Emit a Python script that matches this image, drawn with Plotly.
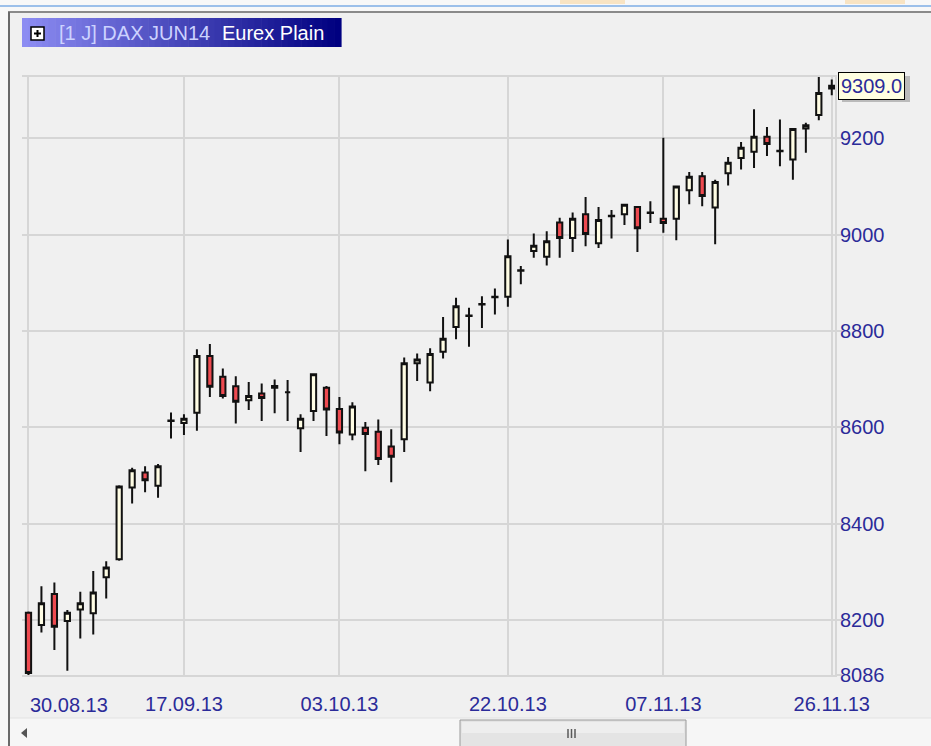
import plotly.graph_objects as go

# ---------------- data ----------------
dates = [
    "30.08.13",
    "02.09.13", "03.09.13", "04.09.13", "05.09.13", "06.09.13", "09.09.13", "10.09.13",
    "11.09.13", "12.09.13", "13.09.13", "16.09.13", "17.09.13", "18.09.13", "19.09.13",
    "20.09.13", "23.09.13", "24.09.13", "25.09.13", "26.09.13", "27.09.13", "30.09.13",
    "01.10.13", "02.10.13", "03.10.13", "04.10.13", "07.10.13", "08.10.13", "09.10.13",
    "10.10.13", "11.10.13", "14.10.13", "15.10.13", "16.10.13", "17.10.13", "18.10.13",
    "21.10.13", "22.10.13", "23.10.13", "24.10.13", "25.10.13", "28.10.13", "29.10.13",
    "30.10.13", "31.10.13",
    "01.11.13", "04.11.13", "05.11.13", "06.11.13", "07.11.13", "08.11.13", "11.11.13",
    "12.11.13", "13.11.13", "14.11.13", "15.11.13", "18.11.13", "19.11.13", "20.11.13",
    "21.11.13", "22.11.13", "25.11.13", "26.11.13",
]
opens = [8215, 8190, 8254, 8198, 8222, 8214, 8289, 8326, 8475, 8506,
         8479, 8613, 8609, 8630, 8748, 8705, 8685, 8656, 8670, 8686,
         8673, 8598, 8634, 8682, 8638, 8585, 8599, 8591, 8560, 8575,
         8733, 8693, 8757, 8808, 8832, 8855, 8870, 8871, 8925, 8966,
         8954, 9025, 8993, 9042, 8982, 9038, 9042, 9057, 9045, 9033,
         9033, 9092, 9121, 9056, 9127, 9159, 9172, 9203, 9173, 9156,
         9220, 9248, 9303]
highs = [8218, 8270, 8278, 8221, 8259, 8302, 8322, 8480, 8516, 8519,
         8524, 8631, 8627, 8762, 8773, 8722, 8706, 8694, 8691, 8699,
         8698, 8627, 8712, 8686, 8663, 8652, 8611, 8616, 8596, 8745,
         8753, 8764, 8829, 8869, 8848, 8872, 8888, 8990, 8935, 9002,
         9007, 9035, 9046, 9078, 9057, 9051, 9064, 9059, 9069, 9201,
         9102, 9130, 9130, 9114, 9161, 9192, 9260, 9223, 9239, 9220,
         9232, 9327, 9322]
lows = [8086, 8174, 8138, 8095, 8162, 8170, 8245, 8323, 8442, 8465,
        8454, 8577, 8584, 8593, 8663, 8660, 8608, 8636, 8613, 8629,
        8613, 8549, 8613, 8582, 8565, 8573, 8509, 8522, 8486, 8549,
        8696, 8675, 8743, 8783, 8767, 8806, 8834, 8850, 8897, 8952,
        8936, 8952, 8964, 8976, 8972, 8992, 9020, 8964, 9024, 9004,
        8988, 9063, 9059, 8980, 9102, 9135, 9138, 9163, 9142, 9114,
        9170, 9237, 9289]
closes = [8090, 8235, 8186, 8215, 8235, 8257, 8309, 8477, 8511, 8490,
          8519, 8614, 8618, 8748, 8684, 8665, 8653, 8665, 8661, 8682,
          8673, 8618, 8710, 8637, 8589, 8643, 8586, 8534, 8539, 8733,
          8741, 8752, 8784, 8851, 8831, 8856, 8871, 8955, 8926, 8977,
          8986, 8993, 9033, 9001, 9030, 9039, 9062, 9013, 9046, 9024,
          9100, 9120, 9080, 9109, 9149, 9180, 9203, 9188, 9174, 9219,
          9227, 9294, 9309]

x_tick_dates = ["30.08.13", "17.09.13", "03.10.13", "22.10.13", "07.11.13", "26.11.13"]
y_ticks = [8086, 8200, 8400, 8600, 8800, 9000, 9200]
y_range = [8086, 9327]
last_price = 9309.0
title_left = "[1 J] DAX JUN14"
title_right = "Eurex Plain"

# ---------------- geometry helpers ----------------
W, H = 931, 746
L, R, T, B = 22, 835, 77, 675
FONT = "Liberation Sans, Arial, sans-serif"
LBL = "#2B2B99"
GRID = "#D6D6D6"


def fx(px):
    return (px - L) / (R - L)


def fy(py):
    return (B - py) / (B - T)


def rect(x0, y0, x1, y1, fill, line=None, lw=0):
    return dict(type="rect", xref="paper", yref="paper",
                x0=fx(x0), x1=fx(x1), y0=fy(y1), y1=fy(y0),
                fillcolor=fill, line=dict(color=line or fill, width=lw))


def seg(x0, y0, x1, y1, color, lw=1):
    return dict(type="line", xref="paper", yref="paper",
                x0=fx(x0), x1=fx(x1), y0=fy(y0), y1=fy(y1),
                line=dict(color=color, width=lw))


fig = go.Figure()
fig.add_trace(go.Candlestick(
    x=dates, open=opens, high=highs, low=lows, close=closes,
    increasing=dict(fillcolor="#FFFDE4", line=dict(color="#111111", width=2)),
    decreasing=dict(fillcolor="#EE4A50", line=dict(color="#111111", width=2)),
    whiskerwidth=0, hoverinfo="skip", showlegend=False,
))

shapes = []
# window frame
shapes.append(rect(0, 0, W, 12, "#F8F8F8"))
shapes.append(rect(560, 0, 625, 4, "rgba(250,205,130,0.45)"))
shapes.append(rect(845, 0, 905, 4, "rgba(250,205,130,0.45)"))
shapes.append(seg(0, 6, W, 6, "#9CC0EA", 2))
shapes.append(rect(0, 12, 8, H, "#F8F8F8"))
shapes.append(seg(8, 12, W, 12, "#8A8A8A", 2))
shapes.append(seg(9, 12, 9, H, "#6A6A6A", 2))

# title box gradient
c0 = (140, 140, 242)
c1 = (0, 0, 128)
bx0, bx1, by0, by1 = 22, 341, 18, 47
n = 48
for i in range(n):
    t = i / (n - 1)
    col = tuple(round(c0[k] + (c1[k] - c0[k]) * t) for k in range(3))
    xa = bx0 + (bx1 - bx0) * i / n
    xb = bx0 + (bx1 - bx0) * (i + 1) / n + 0.6
    shapes.append(rect(xa, by0, xb, by1, "rgb(%d,%d,%d)" % col))
# expand icon
shapes.append(rect(31, 27, 44, 40, "#FFFFFF", "#000000", 1.5))
shapes.append(seg(34, 33.5, 41, 33.5, "#000000", 2))
shapes.append(seg(37.5, 30, 37.5, 37, "#000000", 2))

# last price label shadow
shapes.append(rect(842, 76, 910, 102, "rgba(120,120,120,0.45)"))

# bottom scrollbar
shapes.append(rect(10, 718, W, H, "#F6F6F6"))
shapes.append(seg(10, 718, W, 718, "#E2E2E2", 1))
shapes.append(dict(type="path", xref="paper", yref="paper",
                   path="M %f,%f L %f,%f L %f,%f Z" % (fx(21), fy(733), fx(27), fy(728), fx(27), fy(738)),
                   fillcolor="#555555", line=dict(color="#555555", width=0)))
shapes.append(rect(460, 720, 686, 749, "#E4E4E4", "#9A9A9A", 1))
shapes.append(rect(462, 722, 684, 733, "#EEEEEE"))
for gx in (568, 571.5, 575):
    shapes.append(seg(gx, 729, gx, 738, "#5A5A5A", 1.5))

annotations = [
    dict(xref="paper", yref="paper", x=fx(57), y=fy(33), xanchor="left", yanchor="middle",
         text=title_left, showarrow=False, font=dict(family=FONT, size=20, color="#CCD2FF")),
    dict(xref="paper", yref="paper", x=fx(220), y=fy(33), xanchor="left", yanchor="middle",
         text=title_right, showarrow=False, font=dict(family=FONT, size=20, color="#FFFFFF")),
    dict(xref="x", yref="paper", x=x_tick_dates[0], y=fy(705), xanchor="left", yanchor="middle",
         xshift=0, text=x_tick_dates[0], showarrow=False, font=dict(family=FONT, size=20, color=LBL)),
    dict(xref="paper", yref="y", x=fx(838), y=last_price, xanchor="left", yanchor="middle",
         text="%.1f" % last_price, showarrow=False, bgcolor="#FFFFE1", bordercolor="#000000",
         borderwidth=1, borderpad=2, font=dict(family=FONT, size=20, color=LBL)),
]

fig.update_layout(
    width=W, height=H, autosize=False,
    margin=dict(l=L, r=W - R, t=T, b=H - B, pad=0),
    paper_bgcolor="#F0F0F0", plot_bgcolor="#F0F0F0",
    showlegend=False, hovermode=False,
    boxgap=0.42, boxgroupgap=0.3,
    font=dict(family=FONT, size=20, color=LBL),
    shapes=shapes, annotations=annotations,
    xaxis=dict(type="category", range=[-0.5, 62.25], rangeslider=dict(visible=False),
               tickvals=x_tick_dates, ticktext=[""] + x_tick_dates[1:],
               showgrid=True, gridcolor=GRID, gridwidth=2,
               showline=True, linecolor=GRID, linewidth=2, mirror=True,
               ticks="", tickfont=dict(family=FONT, size=20, color=LBL),
               ticklabelstandoff=10, fixedrange=True),
    yaxis=dict(side="right", range=y_range, tickvals=y_ticks, ticktext=[str(v) for v in y_ticks],
               showgrid=True, gridcolor=GRID, gridwidth=2, zeroline=False,
               showline=True, linecolor=GRID, linewidth=2,
               ticks="outside", ticklen=5, tickcolor=GRID, tickwidth=2,
               ticklabelstandoff=-6,
               tickfont=dict(family=FONT, size=20, color=LBL), fixedrange=True),
)

fig.write_html("out.html", config={"displayModeBar": False},
               post_script="document.body.style.margin='0';document.body.style.overflow='hidden';")
